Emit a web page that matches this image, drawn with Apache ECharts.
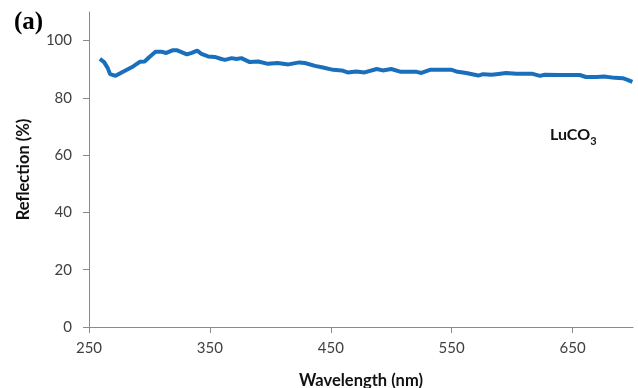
<!DOCTYPE html>
<html>
<head>
<meta charset="utf-8">
<script src="https://cdn.jsdelivr.net/npm/echarts@6/dist/echarts.min.js"></script>
<style>
html,body{margin:0;padding:0;background:#fff;}
#chart{width:638px;height:388px;}
</style>
</head>
<body>
<div id="chart"></div>
<script>
var wavelength = [259,262.5,265.5,267.5,272,277,282.5,286.5,292,296,300,305,310,314,319,323,327,331,335,339.5,343,348.5,354,359.5,362.5,368,372,376,383,390,398,406,415,424,428.5,437,443.5,452,459,464,471,478,488,493,500,508,521,525,532,541.5,550,555,562,572,576,583,587,595,603.5,617,623,627,639,656,661,670,676,685,691.5,695.5,699.5];
var reflection = [93.6,92.5,90.4,88.3,87.7,88.9,90.1,91,92.6,92.7,94.3,96.1,96.1,95.7,96.6,96.6,95.9,95.2,95.7,96.5,95.4,94.5,94.3,93.6,93.3,93.9,93.6,93.9,92.5,92.7,91.9,92.2,91.7,92.4,92.2,91.2,90.6,89.8,89.6,88.9,89.2,88.9,90.1,89.6,90.1,89.1,89.1,88.7,89.8,89.8,89.8,89.1,88.7,87.8,88.3,88.1,88.3,88.7,88.4,88.4,87.7,88.1,88,88,87.3,87.3,87.5,87,86.9,86.3,85.6];
var xTicks = [250,350,450,550,650];
var yTicks = [0,20,40,60,80,100];

var data = wavelength.map(function(w,i){return [w, reflection[i]];});
var chart = echarts.init(document.getElementById('chart'));
var lblFont = 'Lato, "Open Sans", sans-serif';
chart.setOption({
  animation:false,
  grid:{left:89,right:5,top:12,bottom:61,containLabel:false,outerBoundsMode:'none'},
  xAxis:{
    type:'value',min:250,max:700,
    name:'Wavelength (nm)',nameLocation:'middle',nameGap:45,
    nameTextStyle:{fontFamily:lblFont,fontWeight:'bold',fontSize:16.5,color:'#111'},
    axisLine:{lineStyle:{color:'#8a8a8a',width:1}},
    axisTick:{show:true,length:6,inside:false,customValues:xTicks,lineStyle:{color:'#8a8a8a'}},
    axisLabel:{customValues:xTicks,margin:14,fontFamily:lblFont,fontSize:15,color:'#404040'},
    splitLine:{show:false}
  },
  yAxis:{
    type:'value',min:0,max:110,
    name:'Reflection (%)',nameLocation:'middle',nameGap:57,
    nameTextStyle:{fontFamily:lblFont,fontWeight:'bold',fontSize:16.5,color:'#111'},
    axisLine:{show:true,lineStyle:{color:'#8a8a8a',width:1}},
    axisTick:{show:true,length:6,inside:false,customValues:yTicks,lineStyle:{color:'#8a8a8a'}},
    axisLabel:{customValues:yTicks,margin:17,fontFamily:lblFont,fontSize:15,color:'#404040'},
    splitLine:{show:false}
  },
  series:[{
    type:'line',data:data,showSymbol:false,smooth:false,
    lineStyle:{color:'#1a6fbd',width:4}
  }],
  graphic:[
    {type:'text',left:14,top:10,style:{text:'(a)',font:'bold 25px "Liberation Serif", "DejaVu Serif", serif',fill:'#000'}},
    {type:'text',left:550,top:127,style:{
      text:'{m|LuCO}{s|3}',
      rich:{
        m:{fontFamily:lblFont,fontWeight:'bold',fontSize:16,fill:'#111',color:'#111',verticalAlign:'bottom'},
        s:{fontFamily:lblFont,fontWeight:'bold',fontSize:11,fill:'#111',color:'#111',verticalAlign:'bottom',padding:[0,0,-4,0]}
      }
    }}
  ]
});
</script>
</body>
</html>
